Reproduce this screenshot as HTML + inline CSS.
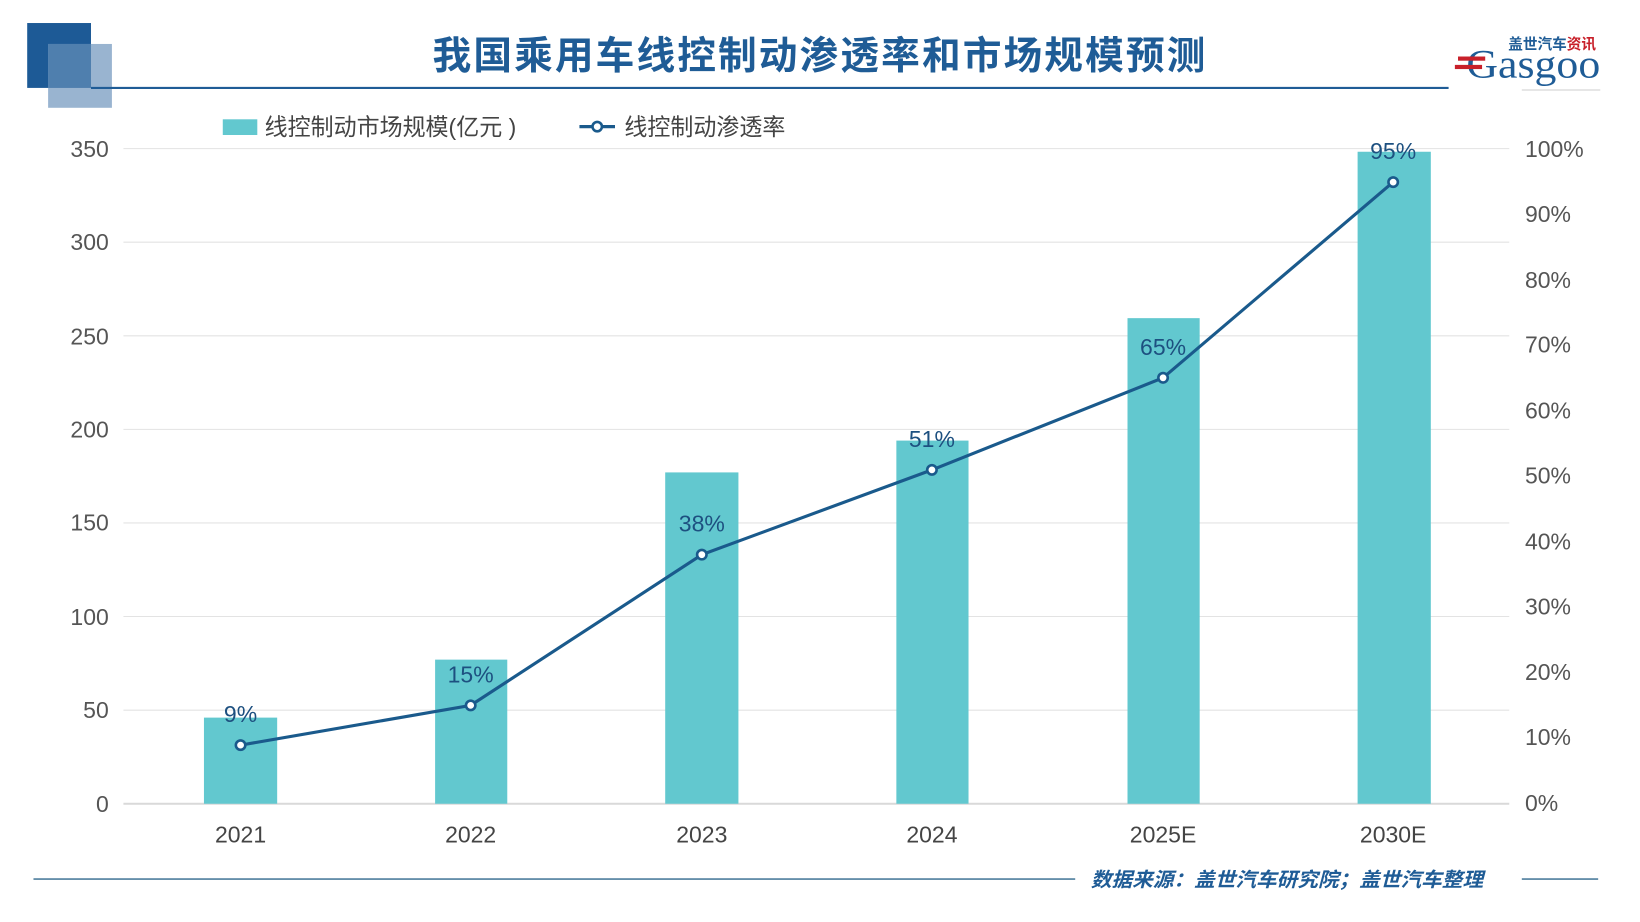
<!DOCTYPE html>
<html><head><meta charset="utf-8"><style>
body{margin:0;width:1640px;height:922px;overflow:hidden;background:#fff}
#s{width:1568px;height:881px;position:relative;transform:scale(1.04592,1.04654);transform-origin:0 0;font-family:"Liberation Sans","Noto Sans CJK SC",sans-serif}
</style></head><body><div id="s">
<svg width="1568" height="881" xmlns="http://www.w3.org/2000/svg" style="position:absolute;left:0;top:0;font-family:'Liberation Sans','Noto Sans CJK SC',sans-serif">
<rect x="26" y="22" width="61" height="62" fill="#1d5a96"/>
<rect x="46" y="42" width="61" height="61" fill="#8eaccb" opacity="0.9"/>
<rect x="46" y="42" width="41" height="42" fill="#4f7fae"/>
<line x1="87" y1="84" x2="1385" y2="84" stroke="#1f5c96" stroke-width="2"/>
<text x="784" y="66" text-anchor="middle" font-size="37" font-weight="bold" fill="#1f5c96" letter-spacing="2">我国乘用车线控制动渗透率和市场规模预测</text>
<text x="1442" y="47" font-size="14" font-weight="bold" fill="#1f5c96">盖世汽车<tspan fill="#c8202a">资讯</tspan></text>
<text x="1402" y="74" font-size="38" fill="#1f5c96" font-family="Liberation Serif,serif" textLength="128" lengthAdjust="spacingAndGlyphs">Gasgoo</text>
<rect x="1394" y="54" width="26" height="4" fill="#c8202a"/><rect x="1391" y="62" width="26" height="4" fill="#c8202a"/>
<line x1="1455" y1="86" x2="1530" y2="86" stroke="#999" stroke-width="0.5"/>
<g stroke="#e3e3e3" stroke-width="1">
<line x1="118" y1="142" x2="1443" y2="142"/><line x1="118" y1="231.4" x2="1443" y2="231.4"/><line x1="118" y1="320.9" x2="1443" y2="320.9"/><line x1="118" y1="410.3" x2="1443" y2="410.3"/><line x1="118" y1="499.7" x2="1443" y2="499.7"/><line x1="118" y1="589.1" x2="1443" y2="589.1"/><line x1="118" y1="678.6" x2="1443" y2="678.6"/>
</g>
<line x1="118" y1="768" x2="1443" y2="768" stroke="#d9d9d9" stroke-width="2"/>
<g font-size="22" fill="#555" text-anchor="end">
<text x="104" y="150">350</text><text x="104" y="239">300</text><text x="104" y="329">250</text><text x="104" y="418">200</text><text x="104" y="507">150</text><text x="104" y="597">100</text><text x="104" y="686">50</text><text x="104" y="776">0</text>
</g>
<g font-size="22" fill="#555">
<text x="1458" y="150">100%</text><text x="1458" y="212">90%</text><text x="1458" y="275">80%</text><text x="1458" y="337">70%</text><text x="1458" y="400">60%</text><text x="1458" y="462">50%</text><text x="1458" y="525">40%</text><text x="1458" y="587">30%</text><text x="1458" y="650">20%</text><text x="1458" y="712">10%</text><text x="1458" y="775">0%</text>
</g>
<g fill="#62c8cf">
<rect x="195" y="685.7" width="70" height="82.3"/><rect x="416" y="630.3" width="69" height="137.7"/><rect x="636" y="451.4" width="70" height="316.6"/><rect x="857" y="421" width="69" height="347"/><rect x="1078" y="304" width="69" height="464"/><rect x="1298" y="145" width="70" height="623"/>
</g>
<g font-size="22" fill="#444" text-anchor="middle">
<text x="230" y="805">2021</text><text x="450" y="805">2022</text><text x="671" y="805">2023</text><text x="891" y="805">2024</text><text x="1112" y="805">2025E</text><text x="1332" y="805">2030E</text>
</g>
<polyline points="230,712 450,674 671,530 891,449 1112,361 1332,174" fill="none" stroke="#1a5a8c" stroke-width="3"/>
<g fill="#fff" stroke="#1a5a8c" stroke-width="2.5">
<circle cx="230" cy="712" r="4.5"/><circle cx="450" cy="674" r="4.5"/><circle cx="671" cy="530" r="4.5"/><circle cx="891" cy="449" r="4.5"/><circle cx="1112" cy="361" r="4.5"/><circle cx="1332" cy="174" r="4.5"/>
</g>
<g font-size="22" fill="#1d5080" text-anchor="middle">
<text x="230" y="690">9%</text><text x="450" y="652">15%</text><text x="671" y="508">38%</text><text x="891" y="427">51%</text><text x="1112" y="339">65%</text><text x="1332" y="152">95%</text>
</g>
<rect x="213" y="114" width="33" height="15" fill="#62c8cf"/>
<text x="253" y="129" font-size="22" fill="#444">线控制动市场规模(亿元 )</text>
<line x1="554" y1="121" x2="588" y2="121" stroke="#1a5a8c" stroke-width="3"/>
<circle cx="571" cy="121" r="4.5" fill="#fff" stroke="#1a5a8c" stroke-width="2.5"/>
<text x="597" y="129" font-size="22" fill="#444">线控制动渗透率</text>
<line x1="32" y1="840" x2="1028" y2="840" stroke="#4f7f9e" stroke-width="1.5"/>
<line x1="1455" y1="840" x2="1528" y2="840" stroke="#4f7f9e" stroke-width="1.5"/>
<text x="1043" y="847" font-size="19" font-style="italic" font-weight="bold" fill="#1f5c96" textLength="375" lengthAdjust="spacingAndGlyphs">数据来源：盖世汽车研究院；盖世汽车整理</text>
</svg></div></body></html>
